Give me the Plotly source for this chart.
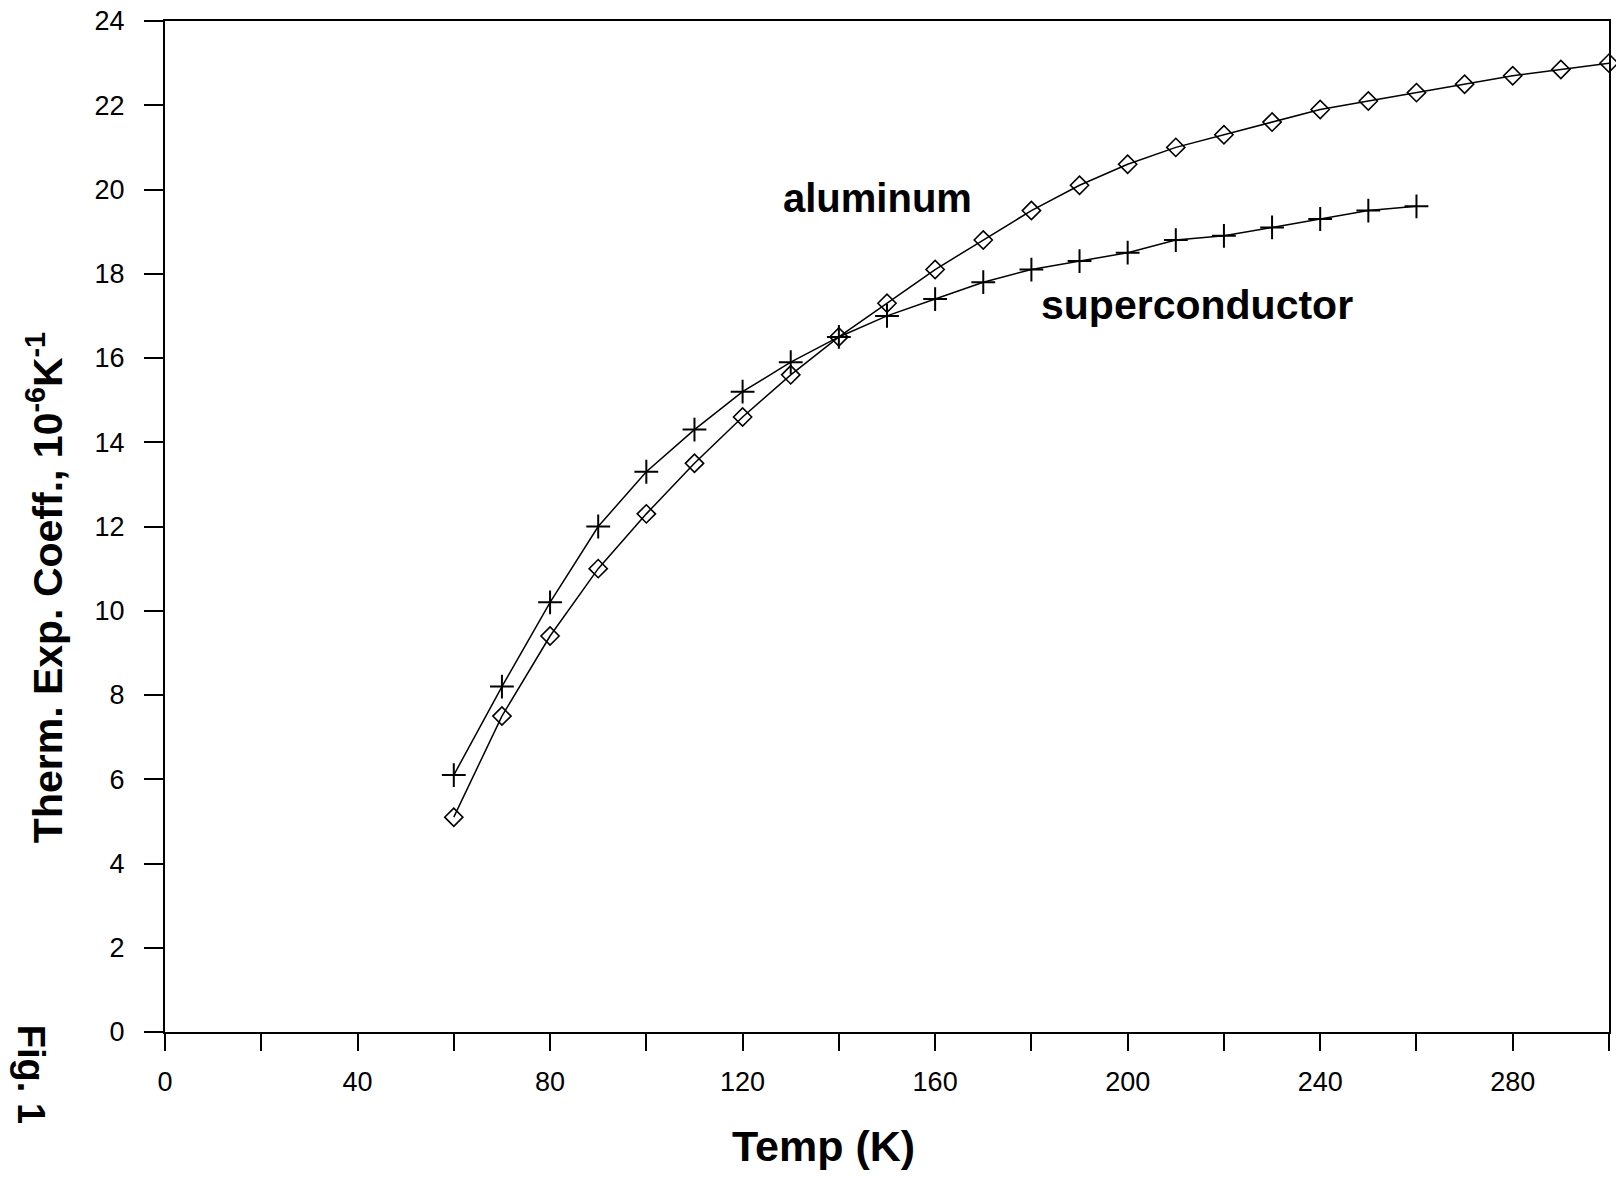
import plotly.graph_objects as go

# Temperature (K)
temp_al = [60, 70, 80, 90, 100, 110, 120, 130, 140, 150, 160, 170, 180, 190,
           200, 210, 220, 230, 240, 250, 260, 270, 280, 290, 300]
alpha_al = [5.1, 7.5, 9.4, 11.0, 12.3, 13.5, 14.6, 15.6, 16.5, 17.3, 18.1, 18.8,
            19.5, 20.1, 20.6, 21.0, 21.3, 21.6, 21.9, 22.1, 22.3, 22.5, 22.7, 22.85, 23.0]

temp_sc = [60, 70, 80, 90, 100, 110, 120, 130, 140, 150, 160, 170, 180, 190,
           200, 210, 220, 230, 240, 250, 260]
alpha_sc = [6.1, 8.2, 10.2, 12.0, 13.3, 14.3, 15.2, 15.9, 16.5, 17.0, 17.4, 17.8,
            18.1, 18.3, 18.5, 18.8, 18.9, 19.1, 19.3, 19.5, 19.6]

x_ticks = [0, 40, 80, 120, 160, 200, 240, 280]
y_ticks = [0, 2, 4, 6, 8, 10, 12, 14, 16, 18, 20, 22, 24]

FONT = "Liberation Sans, Arial, Helvetica, sans-serif"

W, H = 1616, 1180
L, R, T, B = 165, 5, 21, 148
pw, ph = W - L - R, H - T - B


def px_to_paper(px, py):
    return (px - L) / pw, (H - B - py) / ph


fig = go.Figure()
fig.add_trace(go.Scatter(
    x=temp_al, y=alpha_al, mode="lines+markers", name="aluminum",
    line=dict(color="black", width=1.5),
    marker=dict(symbol="diamond-open", size=14, color="black", line=dict(width=1.6, color="black")),
    cliponaxis=False,
))
fig.add_trace(go.Scatter(
    x=temp_sc, y=alpha_sc, mode="lines+markers", name="superconductor",
    line=dict(color="black", width=1.5),
    marker=dict(symbol="cross-thin", size=17, color="black", line=dict(width=2, color="black")),
    cliponaxis=False,
))

fig.add_annotation(x=148, y=19.8, xref="x", yref="y", text="<b>aluminum</b>",
                   showarrow=False, font=dict(family=FONT, size=40, color="black"))
fig.add_annotation(x=214.5, y=17.25, xref="x", yref="y", text="<b>superconductor</b>",
                   showarrow=False, font=dict(family=FONT, size=41, color="black"))

# figure label
fx, fy = px_to_paper(31, 1074)
fig.add_annotation(x=fx, y=fy, xref="paper", yref="paper",
                   xanchor="center", yanchor="middle",
                   text="<b>Fig. 1</b>", textangle=90, showarrow=False,
                   font=dict(family=FONT, size=38, color="black"))

# axis titles
tx, ty = px_to_paper(824, 1146)
fig.add_annotation(x=tx, y=ty, xref="paper", yref="paper",
                   xanchor="center", yanchor="middle",
                   text="<b>Temp (K)</b>", showarrow=False,
                   font=dict(family=FONT, size=43, color="black"))
yx, yy = px_to_paper(45, 588)
fig.add_annotation(x=yx, y=yy, xref="paper", yref="paper",
                   xanchor="center", yanchor="middle",
                   text="<b>Therm. Exp. Coeff., 10<sup>-6</sup>K<sup>-1</sup></b>",
                   textangle=-90, showarrow=False,
                   font=dict(family=FONT, size=41, color="black"))

fig.update_layout(
    width=W, height=H,
    margin=dict(l=L, r=R, t=T, b=B),
    paper_bgcolor="white", plot_bgcolor="white",
    showlegend=False,
    font=dict(family=FONT, size=27, color="black"),
    xaxis=dict(
        range=[0, 300], tickvals=x_ticks, ticktext=[str(v) for v in x_ticks],
        ticks="outside", ticklen=17, tickwidth=2, tickcolor="black",
        minor=dict(dtick=20, tick0=0, ticks="outside", ticklen=17, tickwidth=2, tickcolor="black"),
        showline=True, linecolor="black", linewidth=2, mirror=True,
        showgrid=False, zeroline=False,
        tickfont=dict(family=FONT, size=27, color="black"),
        ticklabelstandoff=8,
    ),
    yaxis=dict(
        range=[0, 24], tickvals=y_ticks, ticktext=[str(v) for v in y_ticks],
        ticks="outside", ticklen=19, tickwidth=2, tickcolor="black",
        showline=True, linecolor="black", linewidth=2, mirror=True,
        showgrid=False, zeroline=False,
        tickfont=dict(family=FONT, size=27, color="black"),
        ticklabelstandoff=14,
    ),
)

fig.write_html("out.html")
